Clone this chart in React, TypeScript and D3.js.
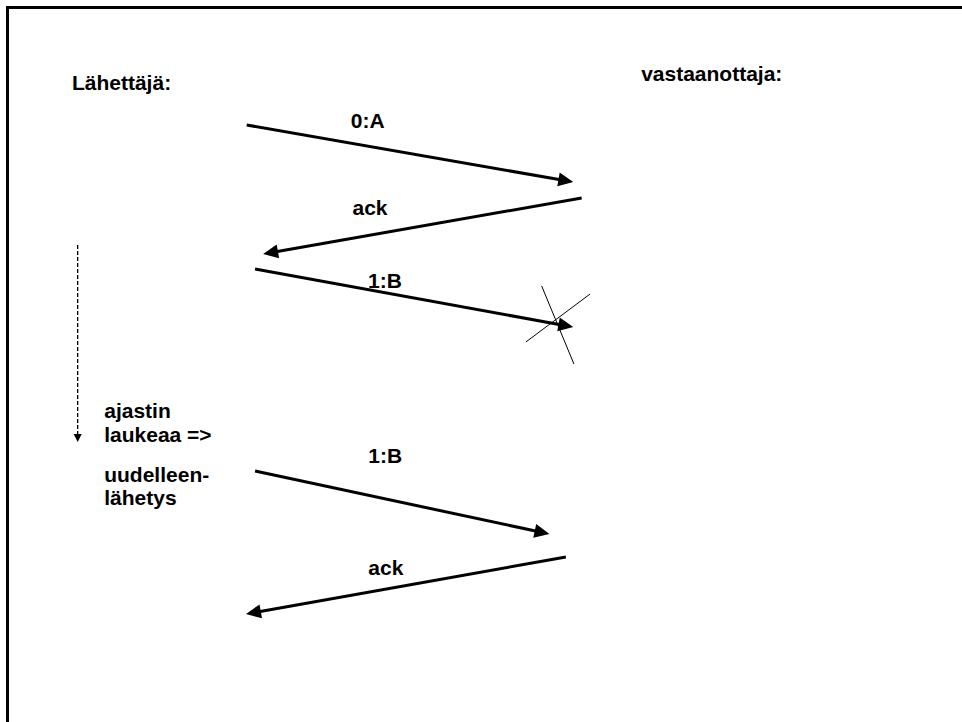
import {useEffect, useRef} from "react"

import * as d3 from "d3"

// x: 0 = sender lane, 1 = receiver lane; t: time units down the page
const msgLabels = ["0:A", "ack", "1:B", "1:B", "ack"]
const sendX = [0.002, 0.999, 0.027, 0.027, 0.952]
const sendT = [11, 84, 155, 357, 443]
const recvX = [0.974, 0.051, 0.974, 0.903, 0.0]
const recvT = [68, 140, 213, 420, 500]
const labelX = [0.312, 0.317, 0.363, 0.364, 0.364]
const labelT = [14, 101, 174, 349, 461]

const laneNames = ["Lähettäjä:", "vastaanottaja:"]
const laneX = [-0.518, 1.176]
const laneT = [-24, -33]

// timer running on the sender side
const timerX = -0.501
const timerT = [131, 328]
const timerNotes = ["ajastin", "laukeaa =>", "uudelleen-", "lähetys"]
const timerNoteX = -0.422
const timerNoteT = [304, 328, 368, 391]

// the cross over the lost packet
const lossX = [[0.88, 0.976], [1.024, 0.833]]
const lossT = [[172, 250], [180, 228]]

const width = 962
const height = 722
const font = "Arial, 'Liberation Sans', sans-serif"

const App = (): JSX.Element => {
  const ref = useRef<SVGSVGElement>(null)

  useEffect(() => {
    const svg = d3.select(ref.current)
    svg.selectAll("*").remove()

    const x = d3.scaleLinear().domain([0, 1]).range([246, 582])
    const y = d3.scaleLinear().domain([0, 500]).range([114, 614])

    // frame (only left and top edges are visible)
    svg
      .append("path")
      .attr("d", `M7.5,${height} V7.5 H${width}`)
      .attr("fill", "none")
      .attr("stroke", "black")
      .attr("stroke-width", 3)

    const text = (str: string, px: number, py: number) =>
      svg
        .append("text")
        .attr("x", px)
        .attr("y", py)
        .attr("font-family", font)
        .attr("font-weight", "bold")
        .attr("font-size", 21)
        .attr("fill", "black")
        .text(str)

    laneNames.forEach((name, i) => text(name, x(laneX[i]), y(laneT[i])))

    const headLen = 15
    const headHalf = 7

    msgLabels.forEach((label, i) => {
      const x0 = x(sendX[i])
      const y0 = y(sendT[i])
      const x1 = x(recvX[i])
      const y1 = y(recvT[i])
      const len = Math.hypot(x1 - x0, y1 - y0)
      const ux = (x1 - x0) / len
      const uy = (y1 - y0) / len
      const bx = x1 - ux * headLen
      const by = y1 - uy * headLen

      svg
        .append("line")
        .attr("x1", x0)
        .attr("y1", y0)
        .attr("x2", bx + ux * 2)
        .attr("y2", by + uy * 2)
        .attr("stroke", "black")
        .attr("stroke-width", 3)

      svg
        .append("polygon")
        .attr(
          "points",
          [
            [x1, y1],
            [bx - uy * headHalf, by + ux * headHalf],
            [bx + uy * headHalf, by - ux * headHalf],
          ]
            .map((p) => p.join(","))
            .join(" ")
        )
        .attr("fill", "black")

      text(label, x(labelX[i]), y(labelT[i]))
    })

    // lost packet cross
    lossX.forEach((xs, i) => {
      svg
        .append("line")
        .attr("x1", x(xs[0]))
        .attr("y1", y(lossT[i][0]))
        .attr("x2", x(xs[1]))
        .attr("y2", y(lossT[i][1]))
        .attr("stroke", "black")
        .attr("stroke-width", 1)
    })

    // timer
    const tx = x(timerX)
    const tipY = y(timerT[1])
    svg
      .append("line")
      .attr("x1", tx)
      .attr("y1", y(timerT[0]))
      .attr("x2", tx)
      .attr("y2", tipY - 8)
      .attr("stroke", "black")
      .attr("stroke-width", 1.3)
      .attr("stroke-dasharray", "4,2")
    svg
      .append("polygon")
      .attr("points", `${tx},${tipY} ${tx - 4},${tipY - 8} ${tx + 4},${tipY - 8}`)
      .attr("fill", "black")

    timerNotes.forEach((note, i) => text(note, x(timerNoteX), y(timerNoteT[i])))
  }, [])

  return (
    <svg
      ref={ref}
      width={width}
      height={height}
      style={{position: "absolute", left: 0, top: 0, background: "white"}}
    />
  )
}

export default App
